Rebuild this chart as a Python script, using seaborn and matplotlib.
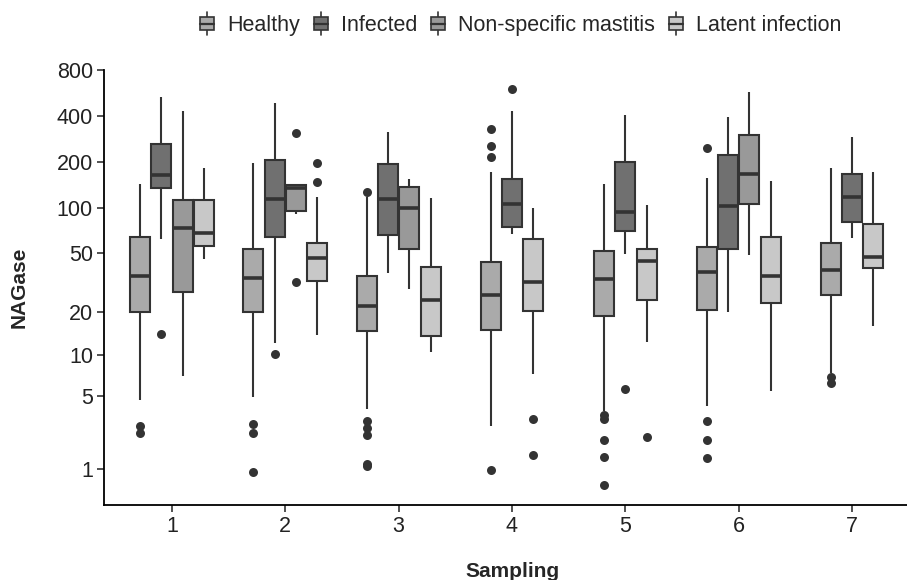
"""NAGase per sampling and udder-health group: boxplots on a log(x+1) axis."""

import matplotlib

matplotlib.use("Agg")
import matplotlib.pyplot as plt
import numpy as np
import pandas as pd
import seaborn as sns
from matplotlib.legend_handler import HandlerBase
from matplotlib.lines import Line2D
from matplotlib.patches import Patch, Rectangle

SAMPLING = [1, 2, 3, 4, 5, 6, 7]
GROUPS = ["Healthy", "Infected", "Non-specific mastitis", "Latent infection"]
COLORS = {
    "Healthy": "#aaaaaa",
    "Infected": "#707070",
    "Non-specific mastitis": "#999999",
    "Latent infection": "#c8c8c8",
}

# box summaries per sampling: (whisker low, Q1, median, Q3, whisker high)
HEALTHY_BOX = {
    1: (4.6, 20.1, 35.5, 63.9, 144),
    2: (4.9, 20.2, 34.1, 53.7, 198),
    3: (3.9, 14.9, 22.1, 35.3, 118),
    4: (2.8, 15.1, 26.3, 44.0, 171),
    5: (3.8, 19.0, 33.5, 52.0, 144),
    6: (4.1, 20.8, 37.5, 55.4, 156),
    7: (7.4, 26.2, 38.7, 58.8, 182),
}
INFECTED_BOX = {
    1: (62.6, 134.5, 165, 264, 530),
    2: (12.3, 64.5, 114, 206, 485),
    3: (37.1, 66.2, 114, 193, 316),
    4: (66.9, 75.1, 105.5, 155.5, 432),
    5: (49.3, 70.4, 93.5, 201, 406),
    6: (20.0, 53.5, 103, 222, 392),
    7: (63.6, 81.0, 118, 166, 293),
}
NONSPEC_BOX = {
    1: (7.1, 27.5, 73.3, 112.6, 433),
    2: (91.0, 95.8, 134.5, 141.3, 143),
    3: (28.7, 53.5, 100, 137.8, 154),
    6: (48.8, 105.5, 167.6, 301, 577),
}
LATENT_BOX = {
    1: (45.9, 55.9, 67.9, 112.6, 183.5),
    2: (14.0, 32.6, 46.3, 58.3, 117.4),
    3: (10.5, 13.8, 24.3, 40.7, 115.6),
    4: (7.3, 20.5, 32.2, 62.6, 100.2),
    5: (12.4, 24.3, 44.7, 53.7, 104),
    6: (5.45, 23.1, 35.3, 64.3, 150.9),
    7: (16.2, 39.7, 47.0, 77.9, 172.8),
}

# outlying animals
HEALTHY_OUT = {
    1: [2.8, 2.4],
    2: [2.9, 2.4, 0.9],
    3: [127, 3.1, 2.7, 2.3, 1.15, 1.1],
    4: [328, 255, 217, 0.95],
    5: [3.5, 3.2, 2.1, 1.4, 0.57],
    6: [248, 3.1, 2.1, 1.35],
    7: [6.9, 6.3],
}
INFECTED_OUT = {1: [14.2], 2: [10.2], 4: [598], 5: [5.65]}
NONSPEC_OUT = {2: [308, 32.3]}
LATENT_OUT = {2: [196, 147], 4: [3.2, 1.47], 5: [2.2]}

BOXES = dict(zip(GROUPS, [HEALTHY_BOX, INFECTED_BOX, NONSPEC_BOX, LATENT_BOX]))
OUTLIERS = dict(zip(GROUPS, [HEALTHY_OUT, INFECTED_OUT, NONSPEC_OUT, LATENT_OUT]))

DODGE = 0.1875
REPEAT = 10


def build_frames():
    box_rows, out_rows = [], []
    for s in SAMPLING:
        present = [g for g in GROUPS if s in BOXES[g]]
        for i, g in enumerate(present):
            xpos = s + (i - (len(present) - 1) / 2) * DODGE
            lo, q1, med, q3, hi = BOXES[g][s]
            vals = [lo] + [q1] * REPEAT + [med] * REPEAT + [q3] * REPEAT + [hi]
            box_rows += [{"xpos": xpos, "group": g, "NAGase": v} for v in vals]
            out_rows += [{"xpos": xpos, "group": g, "NAGase": v}
                         for v in OUTLIERS[g].get(s, [])]
    return pd.DataFrame(box_rows), pd.DataFrame(out_rows)


class BoxKey(HandlerBase):
    def create_artists(self, legend, orig, xdescent, ydescent, width, height,
                       fontsize, trans):
        cx = -xdescent + width / 2
        bw = width * 0.85
        y0 = -ydescent
        rect = Rectangle((cx - bw / 2, y0 + height * 0.15), bw, height * 0.7,
                         facecolor=orig.get_facecolor(), edgecolor="#333333",
                         linewidth=1.2, transform=trans)
        wl = Line2D([cx, cx], [y0 - height * 0.1, y0 + height * 1.1],
                    color="#333333", linewidth=1.2, transform=trans)
        med = Line2D([cx - bw / 2, cx + bw / 2], [y0 + height / 2] * 2,
                     color="#333333", linewidth=1.6, transform=trans)
        return [wl, rect, med]


sns.set_theme(style="ticks")
plt.rcParams["font.family"] = ["Liberation Sans", "DejaVu Sans"]

box_df, out_df = build_frames()

fig = plt.figure(figsize=(9.07, 5.8), dpi=100)
ax = fig.add_axes([104 / 907, 75 / 580, 816 / 907, 435 / 580])

sns.boxplot(
    data=box_df, x="xpos", y="NAGase", hue="group", hue_order=GROUPS,
    palette=COLORS, native_scale=True, dodge=False, width=0.94,
    whis=np.inf, saturation=1, linecolor="#333333", linewidth=1.5,
    medianprops={"linewidth": 2.6, "color": "#333333"},
    capprops={"visible": False}, legend=False, ax=ax,
)
sns.scatterplot(
    data=out_df, x="xpos", y="NAGase", color="#333333", s=42,
    linewidth=0, legend=False, zorder=3, ax=ax,
)

ax.set_yscale("function", functions=(lambda v: np.log10(v + 1),
                                     lambda t: 10 ** t - 1))
yticks = [1, 5, 10, 20, 50, 100, 200, 400, 800]
ax.set_yticks(yticks, labels=[str(t) for t in yticks])
ax.minorticks_off()
ax.set_ylim(0.16, 800)
ax.set_xticks(SAMPLING, labels=[str(s) for s in SAMPLING])
ax.set_xlim(0.4, 7.6)

sns.despine(ax=ax)
for side in ["left", "bottom"]:
    ax.spines[side].set_color("black")
    ax.spines[side].set_linewidth(1.3)
ax.tick_params(axis="both", labelsize=15.5, colors="#222222", length=5,
               width=1.1, pad=3)

ax.set_xlabel("Sampling", fontsize=15, fontweight="bold", va="top")
ax.xaxis.set_label_coords(0.5, -0.13)
ax.set_ylabel("NAGase", fontsize=15, fontweight="bold")
ax.yaxis.set_label_coords(-0.092, 0.5)

handles = [Patch(facecolor=COLORS[g], edgecolor="#333333") for g in GROUPS]
fig.legend(
    handles, GROUPS, loc="center", bbox_to_anchor=(520 / 907, 1 - 25 / 580),
    ncol=4, frameon=False, fontsize=15.5, handler_map={Patch: BoxKey()},
    handlelength=0.75, handleheight=1.0, handletextpad=0.55, columnspacing=0.6,
)

fig.savefig("out.png", dpi=100, facecolor="white")
